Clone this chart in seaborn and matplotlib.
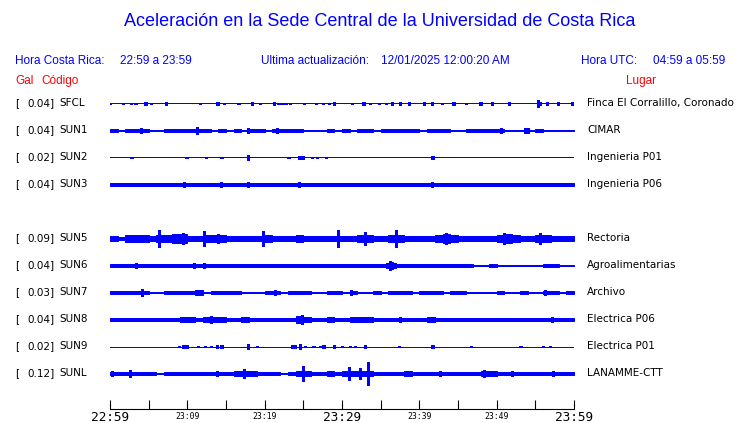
# acelerogramas de la sede central (ultima hora)
import numpy as np
import pandas as pd
import seaborn as sns
import matplotlib.pyplot as plt

codes = ["SFCL", "SUN1", "SUN2", "SUN3", "SUN5", "SUN6", "SUN7", "SUN8", "SUN9", "SUNL"]
places = ["Finca El Corralillo, Coronado", "CIMAR", "Ingenieria P01", "Ingenieria P06",
          "Rectoria", "Agroalimentarias", "Archivo", "Electrica P06", "Electrica P01", "LANAMME-CTT"]
peak_gal = [0.04, 0.04, 0.02, 0.04, 0.09, 0.04, 0.03, 0.04, 0.02, 0.12]

tick_labels = ["22:59", "", "23:09", "", "23:19", "", "23:29", "", "23:39", "", "23:49", "", "23:59"]

# envolvente por minuto (gal), 60 valores
band = {
    "SFCL": [0.0] * 60,
    "SUN1": [0.013, 0.01, 0.013, 0.015, 0.018, 0.01, 0.01, 0.012, 0.012, 0.012,
             0.012, 0.015, 0.013, 0.01, 0.012, 0.01, 0.012, 0.008, 0.013, 0.012,
             0.01, 0.015, 0.012, 0.012, 0.012, 0.01, 0.01, 0.01, 0.012, 0.01,
             0.012, 0.01, 0.012, 0.012, 0.01, 0.013, 0.012, 0.012, 0.012, 0.012,
             0.008, 0.012, 0.012, 0.012, 0.01, 0.01, 0.012, 0.012, 0.012, 0.012,
             0.012, 0.01, 0.008, 0.01, 0.01, 0.012, 0.008, 0.003, 0.005, 0.01],
    "SUN2": [0.0] * 60,
    "SUN3": [0.015, 0.015, 0.015, 0.015, 0.015, 0.015, 0.015, 0.015, 0.015, 0.015,
             0.015, 0.015, 0.015, 0.015, 0.015, 0.015, 0.015, 0.015, 0.014, 0.012,
             0.013, 0.012, 0.014, 0.015, 0.015, 0.015, 0.015, 0.015, 0.015, 0.015,
             0.015, 0.015, 0.015, 0.015, 0.015, 0.015, 0.013, 0.015, 0.013, 0.012,
             0.015, 0.015, 0.015, 0.015, 0.013, 0.015, 0.015, 0.012, 0.015, 0.015,
             0.013, 0.012, 0.013, 0.015, 0.015, 0.015, 0.013, 0.012, 0.013, 0.012],
    "SUN5": [0.03, 0.02, 0.035, 0.04, 0.04, 0.03, 0.035, 0.04, 0.05, 0.05,
             0.03, 0.028, 0.035, 0.035, 0.04, 0.028, 0.028, 0.028, 0.028, 0.03,
             0.04, 0.028, 0.028, 0.03, 0.035, 0.025, 0.025, 0.025, 0.025, 0.03,
             0.028, 0.028, 0.04, 0.035, 0.028, 0.028, 0.04, 0.04, 0.028, 0.028,
             0.028, 0.028, 0.035, 0.05, 0.04, 0.028, 0.028, 0.028, 0.028, 0.028,
             0.04, 0.045, 0.035, 0.028, 0.03, 0.04, 0.04, 0.03, 0.028, 0.028],
    "SUN6": [0.017, 0.017, 0.015, 0.017, 0.017, 0.017, 0.017, 0.016, 0.017, 0.017,
             0.017, 0.017, 0.017, 0.017, 0.017, 0.015, 0.016, 0.016, 0.013, 0.016,
             0.016, 0.016, 0.013, 0.016, 0.015, 0.016, 0.016, 0.015, 0.016, 0.015,
             0.016, 0.016, 0.016, 0.016, 0.016, 0.02, 0.025, 0.016, 0.016, 0.016,
             0.016, 0.016, 0.016, 0.016, 0.016, 0.016, 0.016, 0.01, 0.005, 0.016,
             0.005, 0.005, 0.008, 0.003, 0.003, 0.008, 0.016, 0.016, 0.005, 0.003],
    "SUN7": [0.012, 0.012, 0.012, 0.012, 0.015, 0.01, 0.005, 0.012, 0.012, 0.012,
             0.015, 0.022, 0.01, 0.012, 0.012, 0.012, 0.012, 0.01, 0.005, 0.008,
             0.02, 0.02, 0.01, 0.012, 0.012, 0.012, 0.005, 0.003, 0.015, 0.02,
             0.01, 0.02, 0.005, 0.003, 0.015, 0.01, 0.012, 0.015, 0.012, 0.008,
             0.018, 0.018, 0.012, 0.008, 0.015, 0.012, 0.005, 0.008, 0.01, 0.01,
             0.018, 0.008, 0.005, 0.015, 0.01, 0.01, 0.02, 0.012, 0.003, 0.015],
    "SUN8": [0.018, 0.018, 0.018, 0.018, 0.018, 0.018, 0.018, 0.018, 0.018, 0.022,
             0.022, 0.018, 0.028, 0.03, 0.025, 0.018, 0.018, 0.025, 0.018, 0.018,
             0.018, 0.018, 0.018, 0.018, 0.035, 0.025, 0.018, 0.02, 0.022, 0.018,
             0.018, 0.022, 0.022, 0.022, 0.018, 0.018, 0.018, 0.018, 0.018, 0.018,
             0.018, 0.022, 0.018, 0.018, 0.018, 0.018, 0.018, 0.018, 0.018, 0.018,
             0.018, 0.018, 0.018, 0.018, 0.018, 0.018, 0.018, 0.018, 0.018, 0.018],
    "SUN9": [0.0] * 60,
    "SUNL": [0.018, 0.018, 0.018, 0.018, 0.018, 0.018, 0.008, 0.018, 0.018, 0.018,
             0.018, 0.018, 0.018, 0.018, 0.018, 0.018, 0.025, 0.03, 0.025, 0.018,
             0.018, 0.018, 0.008, 0.018, 0.028, 0.03, 0.018, 0.018, 0.022, 0.018,
             0.025, 0.022, 0.025, 0.025, 0.018, 0.018, 0.018, 0.018, 0.025, 0.018,
             0.018, 0.018, 0.018, 0.018, 0.018, 0.018, 0.018, 0.018, 0.028, 0.022,
             0.018, 0.018, 0.018, 0.018, 0.018, 0.018, 0.018, 0.018, 0.018, 0.018],
}

# pequenos paquetes (minuto, gal)
blobs = {
    "SFCL": [(0, 0.01), (1.7, 0.01), (2.7, 0.01), (3.3, 0.01), (4.6, 0.015), (5.3, 0.01),
             (7.2, 0.015), (11.6, 0.01), (13.9, 0.015), (14.7, 0.01), (16.6, 0.01),
             (18.4, 0.015), (19.4, 0.01), (21.2, 0.015), (21.8, 0.01), (22.3, 0.01),
             (22.8, 0.01), (23.3, 0.01), (25.1, 0.01), (26.6, 0.01), (27.5, 0.01),
             (28.3, 0.01), (29.0, 0.015), (31.3, 0.01), (32.8, 0.015), (33.6, 0.01),
             (34.8, 0.01), (35.7, 0.01), (36.5, 0.015), (37.5, 0.015), (38.7, 0.015),
             (40.6, 0.015), (41.6, 0.015), (42.9, 0.01), (44.4, 0.015), (46.0, 0.01),
             (47.9, 0.015), (49.4, 0.02), (51.6, 0.015), (55.6, 0.015), (56.5, 0.015),
             (57.9, 0.015), (59.8, 0.015)],
    "SUN2": [(2.8, 0.01), (9.9, 0.01), (12.4, 0.01), (14.4, 0.01), (23.1, 0.01),
             (24.4, 0.015), (24.9, 0.015), (26.1, 0.01), (26.8, 0.01), (27.9, 0.01),
             (41.7, 0.015)],
    "SUN9": [(8.9, 0.01), (9.4, 0.015), (9.9, 0.015), (11.4, 0.01), (12.3, 0.01),
             (13.1, 0.01), (13.8, 0.015), (14.4, 0.015), (19.0, 0.01), (23.5, 0.015),
             (23.9, 0.015), (25.2, 0.01), (26.3, 0.01), (27.2, 0.01), (27.6, 0.015),
             (29.0, 0.015), (30.0, 0.01), (31.0, 0.01), (31.7, 0.01), (33.0, 0.015),
             (37.4, 0.01), (41.7, 0.015), (46.7, 0.01), (53.1, 0.01), (56.0, 0.01),
             (56.9, 0.01)],
}

# picos (minuto, gal)
spikes = {
    "SFCL": [(55.3, 0.04)],
    "SUN1": [(4.0, 0.025), (11.3, 0.04), (17.9, 0.025), (21.6, 0.025), (35.6, 0.02),
             (47.1, 0.02), (50.6, 0.03), (53.7, 0.025), (54.1, 0.025)],
    "SUN2": [(17.9, 0.027)],
    "SUN3": [(3.3, 0.02), (9.6, 0.028), (12.4, 0.02), (14.3, 0.03), (17.9, 0.025),
             (24.4, 0.03), (41.7, 0.03)],
    "SUN5": [(6.4, 0.085), (9.5, 0.06), (12.1, 0.075), (14.0, 0.05), (19.8, 0.08),
             (24.2, 0.04), (29.5, 0.085), (33.0, 0.07), (37.0, 0.085), (43.4, 0.06),
             (50.9, 0.06), (55.6, 0.06)],
    "SUN6": [(3.4, 0.025), (10.8, 0.025), (12.2, 0.025), (35.8, 0.03), (36.2, 0.045),
             (36.5, 0.035)],
    "SUN7": [(4.1, 0.035), (21.4, 0.03), (11.2, 0.025), (31.2, 0.022), (56.3, 0.022)],
    "SUN8": [(13.0, 0.035), (24.8, 0.045), (31.5, 0.025), (37.5, 0.025), (41.7, 0.025),
             (50.6, 0.02), (57.1, 0.025)],
    "SUN9": [(17.8, 0.025), (24.6, 0.025)],
    "SUNL": [(0.2, 0.03), (2.6, 0.035), (13.8, 0.025), (17.3, 0.045), (24.9, 0.075),
             (30.9, 0.065), (32.3, 0.06), (33.4, 0.12), (38.5, 0.028), (42.7, 0.025),
             (48.3, 0.035), (49.8, 0.028), (52.0, 0.025), (57.3, 0.025)],
}

W, H = 740, 423
GAIN = 96.0       # pixeles por gal
BLUE = "#0000ff"

sns.set_style("white")
plt.rcParams["font.family"] = ["DejaVu Sans"]
plt.rcParams["text.color"] = "black"

fig = plt.figure(figsize=(W / 100, H / 100), dpi=100)
ax = fig.add_axes([110 / W, 1 - 409 / H, 464 / W, 321 / H])
ax.set_xlim(0, 60)
ax.set_ylim(0, 321)


def row_y(i):
    slot = i + (1 if i >= 4 else 0)          # SUN4 no reporta
    return 103 + 27 * slot                   # pixel desde arriba


minutes = np.arange(61)
rows = []
for i, code in enumerate(codes):
    for m in minutes:
        rows.append({"code": code, "min": m, "y": 409 - row_y(i) - 0.5})
base = pd.DataFrame(rows)
sns.lineplot(data=base, x="min", y="y", units="code", estimator=None, color=BLUE,
             linewidth=0.72, ax=ax, antialiased=False)

for i, code in enumerate(codes):
    y0 = 409 - row_y(i) - 0.5
    amp = np.array(band[code] + [band[code][-1]]) * GAIN
    if amp.max() > 0:
        ax.fill_between(minutes, y0 - amp, y0 + amp, step="post", facecolor=BLUE,
                        edgecolor=BLUE, lw=0.7, antialiased=False)
    if code in blobs:
        bm = [b[0] for b in blobs[code]]
        ba = np.array([b[1] for b in blobs[code]]) * GAIN
        ax.bar(bm, 2 * ba, bottom=y0 - ba, width=0.3, facecolor=BLUE, edgecolor=BLUE,
               lw=0.7, antialiased=False)
    if code in spikes:
        sm = [s[0] for s in spikes[code]]
        sa = np.array([s[1] for s in spikes[code]]) * GAIN
        ax.vlines(sm, y0 - sa, y0 + sa, color=BLUE, lw=0.9, antialiased=False)

    ty = 1 - row_y(i) / H
    fig.text(15 / W, ty, "[", fontsize=7.5, va="center", ha="left")
    fig.text(55 / W, ty, f"{peak_gal[i]:.2f}]", fontsize=7.5, va="center", ha="right")
    fig.text(59 / W, ty, code, fontsize=7.5, va="center", ha="left")
    fig.text(587 / W, ty, places[i], fontsize=7.5, va="center", ha="left")

# eje de tiempo
for s in ["top", "right", "left"]:
    ax.spines[s].set_visible(False)
ax.spines["bottom"].set_linewidth(0.8)
ax.spines["bottom"].set_color("black")
ax.set_yticks([])
ax.set_xticks(np.arange(0, 61, 5))
ax.set_xticklabels([])
ax.tick_params(axis="x", direction="in", length=6.5, width=0.8, color="black", bottom=True)
for k, lab in enumerate(tick_labels):
    if not lab:
        continue
    big = k % 6 == 0
    ax.text(k * 5, -12 if big else -9.5, lab, ha="center", va="baseline",
            family="DejaVu Sans Mono", fontsize=9.2 if big else 5.9, clip_on=False)
ax.set_xlabel("")
ax.set_ylabel("")

# encabezado
hdr = dict(family="Liberation Sans", color=BLUE)
fig.text(380 / W, 1 - 22 / H, "Aceleración en la Sede Central de la Universidad de Costa Rica",
         fontsize=13, ha="center", va="center", **hdr)
fig.text(15 / W, 1 - 61 / H, "Hora Costa Rica:", fontsize=8.5, va="center", **hdr)
fig.text(120 / W, 1 - 61 / H, "22:59 a 23:59", fontsize=8.5, va="center", **hdr)
fig.text(261 / W, 1 - 61 / H, "Ultima actualización:", fontsize=8.5, va="center", **hdr)
fig.text(381 / W, 1 - 61 / H, "12/01/2025 12:00:20 AM", fontsize=8.5, va="center", **hdr)
fig.text(581 / W, 1 - 61 / H, "Hora UTC:", fontsize=8.5, va="center", **hdr)
fig.text(725 / W, 1 - 61 / H, "04:59 a 05:59", fontsize=8.5, va="center", ha="right", **hdr)
red = dict(family="Liberation Sans", color="#ff0000", fontsize=8.5, va="center")
fig.text(15 / W, 1 - 81 / H, "Gal", **red)
fig.text(41 / W, 1 - 81 / H, "Código", **red)
fig.text(626 / W, 1 - 81 / H, "Lugar", **red)

fig.savefig("out.png", dpi=100)
